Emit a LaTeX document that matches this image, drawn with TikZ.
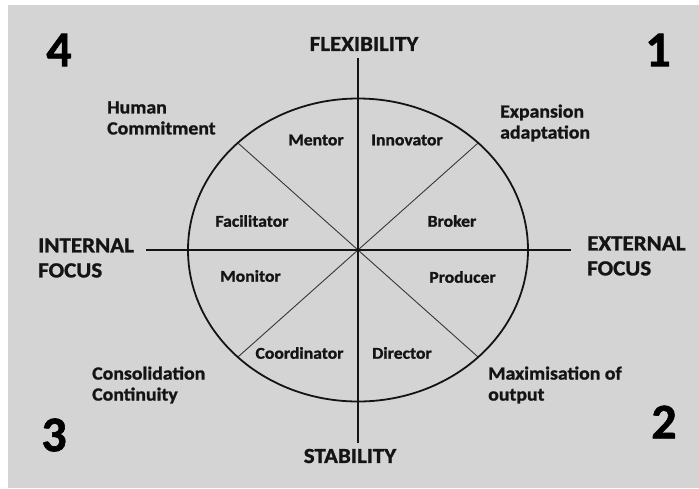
\documentclass[tikz,border=0pt]{standalone}
\usepackage{fontspec}
\setmainfont{Carlito}[BoldFeatures={FakeBold=1.2}]
\begin{document}
\definecolor{panel}{RGB}{212,212,212}
\definecolor{ink}{RGB}{20,20,20}
\begin{tikzpicture}[x=1pt,y=-1pt,
  axis/.style={line width=1.8pt, draw=ink},
  divider/.style={line width=0.9pt, draw=ink!85},
  role/.style={font=\bfseries\fontsize{16.5}{20}\selectfont, text=ink, inner sep=0pt, transform shape, xscale=1.07},
  aim/.style={font=\bfseries\fontsize{18.5}{21}\selectfont, text=ink, inner sep=0pt, align=left, anchor=west, transform shape, xscale=1.07},
  pole/.style={font=\bfseries\fontsize{21.5}{25}\selectfont, text=ink, inner sep=0pt, transform shape, xscale=1.07},
  focus/.style={pole, align=left, anchor=west},
  quad/.style={font=\bfseries\fontsize{50}{50}\selectfont, text=black, inner sep=0pt}]
  % page and grey panel
  \useasboundingbox (0,0) rectangle (699,488);
  \fill[white] (0,0) rectangle (699,488);
  \fill[panel] (8,5) rectangle (699,488);

  % centre and axis ends
  \coordinate (O) at (358,250);
  \coordinate (top) at (358,58);
  \coordinate (bot) at (358,443);
  \coordinate (lft) at (146,250);
  \coordinate (rgt) at (571,250);

  % sector dividers
  \draw[divider] (O) -- +(45:170 and -151.5) coordinate (ne);
  \draw[divider] (O) -- +(135:170 and -151.5) coordinate (nw);
  \draw[divider] (O) -- +(225:170 and -151.5) coordinate (sw);
  \draw[divider] (O) -- +(315:170 and -151.5) coordinate (se);

  % outer ellipse and axes
  \draw[axis] (O) ellipse [x radius=170, y radius=151.5];
  \draw[axis] (top) -- (bot);
  \draw[axis] (lft) -- (rgt);

  % axis poles
  \node[pole] (flex) at (364,44) {FLEXIBILITY};
  \node[pole] (stab) at (350,456) {STABILITY};
  \node[focus] (intf) at (38,258) {INTERNAL\\FOCUS};
  \node[focus] (extf) at (587,256) {EXTERNAL\\FOCUS};

  % quadrant numbers
  \node[quad] (q4) at (59,50) {4};
  \node[quad] (q1) at (658,50) {1};
  \node[quad] (q3) at (54,435) {3};
  \node[quad] (q2) at (664,422) {2};

  % quadrant aims
  \node[aim] (hc) at (107,118) {Human\\Commitment};
  \node[aim] (ea) at (500,123) {Expansion\\adaptation};
  \node[aim] (cc) at (92,385) {Consolidation\\Continuity};
  \node[aim] (mo) at (488,385) {Maximisation of\\output};

  % roles
  \node[role] (mentor) at (316,140) {Mentor};
  \node[role] (innov) at (407,140) {Innovator};
  \node[role] (facil) at (252,221) {Facilitator};
  \node[role] (broker) at (452,221) {Broker};
  \node[role] (monit) at (250.5,276) {Monitor};
  \node[role] (prod) at (462.5,277) {Producer};
  \node[role] (coord) at (299.5,353) {Coordinator};
  \node[role] (direc) at (402,353) {Director};
\end{tikzpicture}
\end{document}
